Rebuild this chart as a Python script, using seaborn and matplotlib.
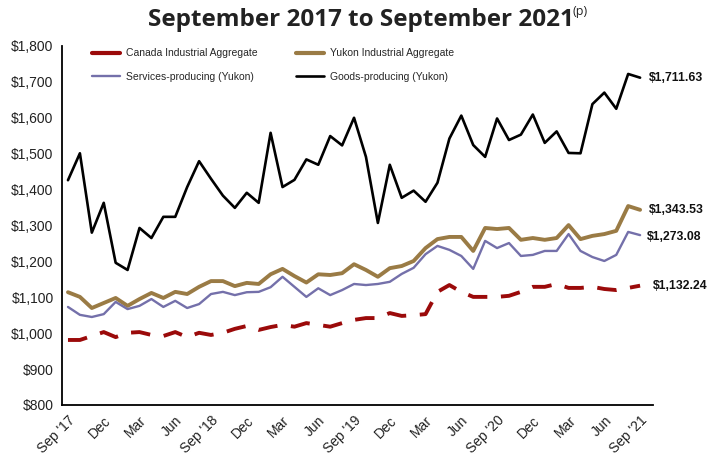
import matplotlib
matplotlib.use("Agg")
import matplotlib.pyplot as plt
import seaborn as sns
import pandas as pd
import numpy as np
from matplotlib.lines import Line2D

months = pd.date_range("2017-09-01", "2021-09-01", freq="MS")

canada = [981, 981, 992, 1003, 989, 1001, 1003, 995, 992, 1003, 989, 1001,
          995, 1001, 1012, 1020, 1009, 1017, 1023, 1018, 1028, 1023, 1018, 1028,
          1037, 1042, 1042, 1056, 1048, 1050, 1053, 1115, 1134, 1115, 1101, 1101,
          1101, 1104, 1115, 1129, 1129, 1137, 1126, 1126, 1129, 1123, 1120, 1126,
          1132.24]
yukon = [1114, 1101, 1070, 1084, 1098, 1076, 1095, 1112, 1098, 1115, 1109, 1129,
         1145, 1145, 1131, 1140, 1137, 1164, 1179, 1159, 1141, 1164, 1162, 1167,
         1192, 1176, 1157, 1181, 1187, 1201, 1237, 1262, 1268, 1268, 1229, 1293,
         1290, 1293, 1260, 1265, 1260, 1265, 1301, 1262, 1271, 1276, 1285, 1354,
         1343.53]
services = [1073, 1051, 1045, 1053, 1087, 1067, 1076, 1095, 1073, 1090, 1070, 1081,
            1109, 1115, 1106, 1114, 1115, 1128, 1157, 1129, 1101, 1125, 1106, 1120,
            1137, 1134, 1137, 1143, 1165, 1182, 1220, 1243, 1232, 1215, 1179, 1257,
            1237, 1251, 1215, 1218, 1229, 1229, 1276, 1229, 1212, 1201, 1218, 1282,
            1273.08]
goods = [1426, 1501, 1280, 1363, 1196, 1176, 1293, 1265, 1324, 1324, 1407, 1479,
         1430, 1383, 1349, 1391, 1363, 1558, 1407, 1427, 1484, 1469, 1549, 1523,
         1600, 1491, 1307, 1469, 1377, 1397, 1366, 1419, 1542, 1606, 1524, 1491,
         1598, 1538, 1553, 1609, 1530, 1562, 1502, 1501, 1638, 1670, 1625, 1722,
         1711.63]

series_names = ["Canada Industrial Aggregate", "Yukon Industrial Aggregate",
                "Services-producing (Yukon)", "Goods-producing (Yukon)"]
end_labels = ["$1,132.24", "$1,343.53", "$1,273.08", "$1,711.63"]
yticks = [800, 900, 1000, 1100, 1200, 1300, 1400, 1500, 1600, 1700, 1800]
ytick_labels = ["$800", "$900", "$1,000", "$1,100", "$1,200", "$1,300",
                "$1,400", "$1,500", "$1,600", "$1,700", "$1,800"]
xtick_labels = ["Sep '17", "Dec", "Mar", "Jun", "Sep '18", "Dec", "Mar", "Jun",
                "Sep '19", "Dec", "Mar", "Jun", "Sep '20", "Dec", "Mar", "Jun",
                "Sep '21"]

sns.set_theme(style="white")
plt.rcParams['font.family'] = ['Liberation Sans', 'DejaVu Sans']

idx = np.arange(len(months))
df = pd.DataFrame({"m": idx, series_names[0]: canada, series_names[1]: yukon,
                   series_names[2]: services, series_names[3]: goods})

fig = plt.figure(figsize=(7.08, 4.55), dpi=100)
ax = fig.add_axes([0.0876, 0.110, 0.835, 0.789])

colors = ["#9B0A0A", "#9A7B45", "#7470AA", "#000000"]
widths = [2.8, 2.8, 1.7, 1.9]

sns.lineplot(data=df, x="m", y=series_names[0], ax=ax, color=colors[0],
             linewidth=widths[0])
ax.lines[-1].set_dashes([5, 3.5])
sns.lineplot(data=df, x="m", y=series_names[1], ax=ax, color=colors[1],
             linewidth=widths[1])
sns.lineplot(data=df, x="m", y=series_names[2], ax=ax, color=colors[2],
             linewidth=widths[2])
sns.lineplot(data=df, x="m", y=series_names[3], ax=ax, color=colors[3],
             linewidth=widths[3])

ax.set_ylim(800, 1800)
ax.set_xlim(-0.5, 49.1)
ax.set_yticks(yticks)
ax.set_yticklabels(ytick_labels, fontsize=10)
ax.set_xticks(idx[::3])
ax.set_xticklabels(xtick_labels, rotation=45, ha="right", rotation_mode="anchor",
                   fontsize=10)
ax.tick_params(axis="both", length=0, pad=6, colors="#222222")
ax.set_xlabel("")
ax.set_ylabel("")
for s in ["top", "right"]:
    ax.spines[s].set_visible(False)
for s in ["left", "bottom"]:
    ax.spines[s].set_color("black")
    ax.spines[s].set_linewidth(1.3)

# legend (row-wise order: Canada, Yukon / Services, Goods)
order = [0, 2, 1, 3]
lws = [3, 3, 1.7, 1.9]
handles = [Line2D([], [], color=colors[i], lw=lws[i]) for i in order]
labels = [series_names[i] for i in order]
ax.legend(handles, labels, ncol=2, loc="upper left",
          bbox_to_anchor=(0.035, 1.02), frameon=False, fontsize=7.5,
          handlelength=2.7, columnspacing=3.6, labelspacing=1.3,
          handletextpad=0.6)

last = len(idx) - 1
vals = [canada[-1], yukon[-1], services[-1], goods[-1]]
offs = [0, 0, -1, 0]
xoffs = [9, 6, 5, 6]
for v, lab, dy, dx in zip(vals, end_labels, offs, xoffs):
    ax.annotate(lab, xy=(last, v), xytext=(dx, dy), textcoords="offset points",
                fontsize=8.8, fontweight="bold", va="center", ha="left",
                annotation_clip=False, color="#111111")

fig.text(0.51, 0.957, "September 2017 to September 2021", ha="center", va="center",
         fontsize=17.5, fontweight="bold", family=["Open Sans", "DejaVu Sans"],
         color="#222222")
fig.text(0.809, 0.975, "(p)", ha="left", va="center", fontsize=9,
         family=["Open Sans", "DejaVu Sans"], color="#222222")

fig.savefig("out.png", dpi=100)
